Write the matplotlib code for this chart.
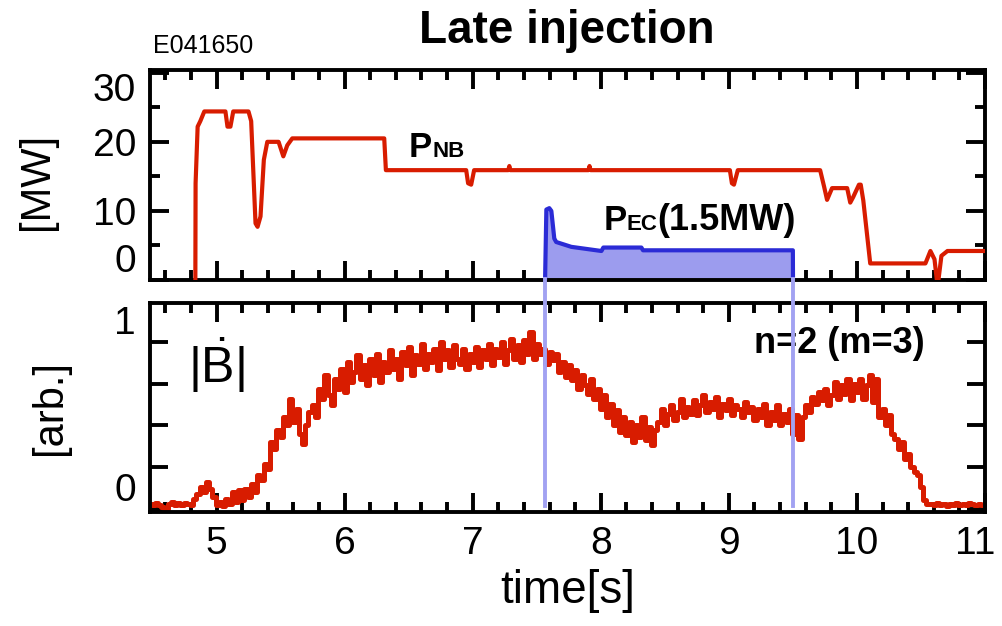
import numpy as np
import matplotlib
matplotlib.use("Agg")
import matplotlib.pyplot as plt
import matplotlib.transforms as mtransforms
from matplotlib.ticker import MultipleLocator

plt.rcParams['font.family'] = ['Liberation Sans', 'DejaVu Sans']
plt.rcParams['mathtext.fontset'] = 'custom'
plt.rcParams['mathtext.rm'] = 'Liberation Sans'
plt.rcParams['mathtext.it'] = 'Liberation Sans'

# NBI power [MW] vs time [s]
pnb_t = [4.834, 4.836, 4.852, 4.873, 4.904, 5.069, 5.085, 5.108, 5.130, 5.249,
         5.270, 5.304, 5.320, 5.343, 5.369, 5.396, 5.484, 5.521, 5.552, 5.591,
         6.309, 6.322, 6.949, 6.964, 6.988, 7.011, 7.278, 7.286, 7.293, 7.904,
         7.912, 7.920, 9.008, 9.024, 9.040, 9.070, 9.713, 9.744, 9.767, 9.806,
         9.924, 9.948, 9.971, 10.016, 10.030, 10.050, 10.104, 10.535, 10.574, 10.606,
         10.630, 10.660, 10.707, 11.02]
pnb_p = [-1.0, 14.0, 22.2, 23.0, 24.4, 24.4, 22.2, 22.2, 24.4, 24.4,
         23.0, 8.2, 7.7, 9.2, 17.4, 20.0, 20.0, 17.9, 19.5, 20.5,
         20.5, 15.9, 15.9, 14.0, 13.8, 15.9, 15.9, 16.5, 15.9, 15.9,
         16.5, 15.9, 15.9, 14.0, 13.8, 15.9, 15.9, 13.5, 11.6, 13.3,
         13.3, 11.2, 12.0, 13.8, 13.8, 11.5, 2.4, 2.4, 4.2, 3.0,
         -1.0, 3.5, 4.2, 4.2]

# ECH power [MW]
pec_t = [7.565, 7.575, 7.598, 7.614, 7.637, 7.652, 7.770, 8.005, 8.020, 8.120,
         8.317, 8.330, 8.470, 9.500, 9.501]
pec_p = [0.0, 10.2, 10.4, 10.0, 6.0, 5.5, 4.8, 4.2, 4.7, 4.7,
         4.7, 4.3, 4.3, 4.3, 0.0]

ech_on, ech_off = 7.567, 9.50

# |dB/dt| of n=2 mode, sampled every 25 ms from 4.48 s
bdot_t0 = 4.48
bdot_dt = 0.025
bdot = [0.03, 0.02, 0.035, 0.025, 0.01, 0.0, 0.03, 0.04, 0.025, 0.035,
        0.02, 0.035, 0.03, 0.02, 0.06, 0.09, 0.13, 0.10, 0.16, 0.12,
        0.07, 0.02, 0.04, 0.015, 0.06, 0.03, 0.10, 0.04, 0.11, 0.05,
        0.12, 0.07, 0.15, 0.10, 0.20, 0.17, 0.27, 0.24, 0.40, 0.36,
        0.47, 0.43, 0.55, 0.50, 0.66, 0.52, 0.60, 0.45, 0.39, 0.50,
        0.58, 0.62, 0.55, 0.72, 0.66, 0.80, 0.68, 0.62, 0.78, 0.72,
        0.84, 0.70, 0.88, 0.76, 0.82, 0.92, 0.78, 0.86, 0.74, 0.90,
        0.80, 0.93, 0.76, 0.88, 0.82, 0.95, 0.84, 0.90, 0.78, 0.94,
        0.86, 0.97, 0.80, 0.92, 0.87, 0.99, 0.84, 0.93, 0.88, 0.96,
        0.83, 1.00, 0.90, 0.95, 0.85, 0.98, 0.90, 0.87, 0.96, 0.84,
        0.93, 0.88, 0.97, 0.85, 0.95, 0.90, 0.99, 0.86, 0.96, 0.91,
        1.00, 0.87, 0.95, 1.02, 0.90, 0.98, 0.88, 1.01, 0.93, 1.06,
        0.90, 0.99, 0.93, 0.96, 0.87, 0.94, 0.89, 0.93, 0.82, 0.88,
        0.79, 0.86, 0.77, 0.83, 0.72, 0.80, 0.74, 0.69, 0.78, 0.66,
        0.72, 0.60, 0.68, 0.55, 0.63, 0.50, 0.59, 0.46, 0.55, 0.44,
        0.52, 0.40, 0.50, 0.43, 0.55, 0.41, 0.49, 0.38, 0.47, 0.52,
        0.60, 0.50, 0.57, 0.62, 0.53, 0.58, 0.66, 0.55, 0.61, 0.57,
        0.65, 0.56, 0.62, 0.68, 0.58, 0.64, 0.60, 0.67, 0.55, 0.63,
        0.59, 0.66, 0.56, 0.62, 0.60, 0.55, 0.64, 0.58, 0.61, 0.53,
        0.60, 0.55, 0.63, 0.50, 0.58, 0.53, 0.62, 0.50, 0.57, 0.52,
        0.60, 0.45, 0.56, 0.42, 0.55, 0.62, 0.58, 0.67, 0.63, 0.70,
        0.65, 0.72, 0.62, 0.68, 0.76, 0.66, 0.74, 0.69, 0.78, 0.65,
        0.75, 0.70, 0.78, 0.66, 0.74, 0.80, 0.64, 0.78, 0.55, 0.60,
        0.50, 0.56, 0.45, 0.42, 0.36, 0.40, 0.30, 0.33, 0.25, 0.22,
        0.20, 0.13, 0.05, 0.03, 0.03, 0.02, 0.035, 0.02, 0.03, 0.015,
        0.03, 0.02, 0.035, 0.025, 0.03, 0.02, 0.035, 0.03, 0.02, 0.03, 0.025]
bdot_time = bdot_t0 + bdot_dt * np.arange(len(bdot))

red = '#d81c00'
blue = '#2b2bd6'
fill_blue = '#9c9cee'
line_blue = '#a2a2f2'

fig = plt.figure(figsize=(10.02, 6.26), dpi=100)
ax1 = fig.add_axes([0.1497, 0.5527, 0.8333, 0.3355])
ax2 = fig.add_axes([0.1497, 0.1821, 0.8333, 0.3339])

ax1.plot(pnb_t, pnb_p, color=red, lw=3.0, zorder=3)
ax1.fill_between(pec_t, pec_p, 0, color=fill_blue, lw=0, zorder=2)
ax1.plot(pec_t, pec_p, color=blue, lw=3.0, zorder=3)
ax1.set_xlim(4.48, 11.0)
ax1.set_ylim(0, 30.4)
ax1.set_yticks([0, 10, 20, 30])
ax1.set_yticklabels(['0', '10', '20', '30'])
ax1.yaxis.set_minor_locator(MultipleLocator(5))
ax1.xaxis.set_major_locator(MultipleLocator(1))
ax1.xaxis.set_minor_locator(MultipleLocator(0.2))
ax1.tick_params(labelbottom=False)
ax1.set_ylabel('[MW]', fontsize=30)
ax1.yaxis.set_label_coords(-0.111, 0.47)

ax2.plot(bdot_time, bdot, color=red, lw=3.6, drawstyle='steps-mid', zorder=2)
for tt in (ech_on, ech_off):
    ax2.axvline(tt, ymin=0.03, ymax=1.115, color=line_blue, lw=2.8,
                clip_on=False, zorder=4)
ax2.set_xlim(4.48, 11.0)
ax2.set_ylim(-0.02, 1.235)
ax2.set_yticks([0, 0.25, 0.5, 0.75, 1])
ax2.set_yticklabels(['0', '', '', '', '1'])
ax2.xaxis.set_minor_locator(MultipleLocator(0.2))
ax2.set_xticks([5, 6, 7, 8, 9, 10, 11])
ax2.set_ylabel('[arb.]', fontsize=30)
ax2.yaxis.set_label_coords(-0.096, 0.5)
ax2.set_xlabel('time[s]', fontsize=33, labelpad=5)

for ax in (ax1, ax2):
    for sp in ax.spines.values():
        sp.set_linewidth(2.8)
    ax.tick_params(which='both', direction='in', top=True, right=True,
                   width=2.8, labelsize=28, pad=10)
    ax.tick_params(which='major', length=14)
    ax.tick_params(which='minor', length=7)
ax2.tick_params(axis='y', which='major', length=13)

labs = ax1.get_yticklabels()
labs[0].set_va('bottom')
labs[-1].set_va('top')
for lab in ax2.get_yticklabels():
    lab.set_va('bottom')
xlabs = ax2.get_xticklabels()
shift = mtransforms.ScaledTranslation(-7 / 72, 0, fig.dpi_scale_trans)
xlabs[-1].set_transform(xlabs[-1].get_transform() + shift)

# annotations
ax1.text(6.5, 17.8, 'P', fontsize=25, fontweight='bold', va='baseline')
ax1.annotate('NB', (6.5, 17.8), xytext=(17, 0), textcoords='offset points',
             fontsize=16, fontweight='bold', va='baseline')
ax1.text(8.02, 7.2, 'P', fontsize=25, fontweight='bold', va='baseline')
ax1.annotate('EC', (8.02, 7.2), xytext=(17, 0), textcoords='offset points',
             fontsize=16, fontweight='bold', va='baseline')
ax1.annotate('(1.5MW)', (8.02, 7.2), xytext=(39, 0), textcoords='offset points',
             fontsize=26, fontweight='bold', va='baseline')

ax2.text(4.78, 0.86, r'$|\dot{\mathrm{B}}|$', fontsize=36, va='center')
ax2.text(9.2, 0.99, 'n=2 (m=3)', fontsize=26, fontweight='bold',
         ha='left', va='center')

fig.text(0.566, 0.95, 'Late injection', fontsize=33, fontweight='bold',
         ha='center', va='center')
fig.text(0.153, 0.927, 'E041650', fontsize=18, ha='left', va='center')

fig.savefig('out.png', dpi=100)
